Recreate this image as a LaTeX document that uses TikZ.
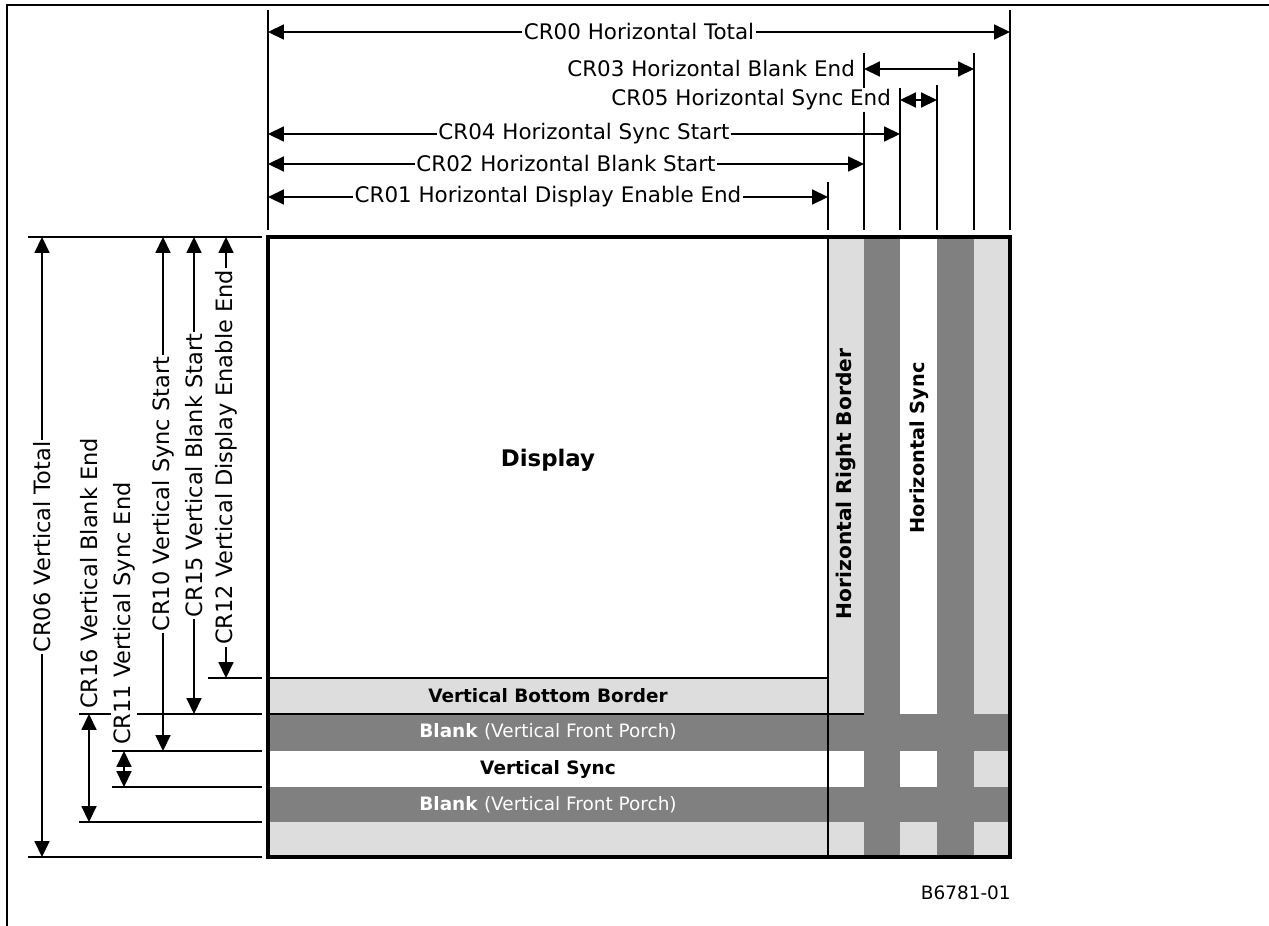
\documentclass[tikz,border=0pt]{standalone}
\usepackage{fontspec}
\setmainfont{DejaVu Sans}
\usepackage{xcolor}
\usetikzlibrary{arrows.meta}

\definecolor{lightband}{HTML}{DDDDDD}
\definecolor{darkband}{HTML}{808080}

\tikzset{
  dim/.style={{Triangle[length=9pt,width=8.5pt]}-{Triangle[length=9pt,width=8.5pt]}, line width=0.9pt},
  extline/.style={line width=0.9pt},
  crlabel/.style={fill=white, inner sep=1pt, font=\fontsize{12.2}{14}\selectfont},
  vcrlabel/.style={crlabel, rotate=90, font=\fontsize{12.8}{15}\selectfont},
  bandlabel/.style={inner sep=0pt, font=\fontsize{10.5}{12}\selectfont\bfseries}
}

\begin{document}
\begin{tikzpicture}[x=0.02cm, y=-0.02cm]
\useasboundingbox (0,0) rectangle (1269,926);
\draw[line width=1.5pt] (1269,5) -| (7,926);

% screen bands
\fill[lightband] (268,237) rectangle (1010,857);
\fill[white] (268,237) rectangle (828,678);
\fill[white] (900,237) rectangle (937,714);
\fill[white] (268,751) rectangle (974,787);
\fill[darkband] (268,714) rectangle (1010,751);
\fill[darkband] (268,787) rectangle (1010,822);
\fill[darkband] (864,237) rectangle (900,857);
\fill[darkband] (937,237) rectangle (974,857);
\draw[extline] (828,237) -- (828,857);
\draw[extline] (268,678) -- (828,678);
\draw[extline] (268,714) -- (864,714);
\draw[line width=1.9pt] (268,237) rectangle (1010,857);

\node[font=\fontsize{13}{15}\selectfont\bfseries] (disp) at (548,460) {Display};
\node[bandlabel] (vbb) at (548,696) {Vertical Bottom Border};
\node[bandlabel, text=white] (blank1) at (548,732) {Blank \mdseries(Vertical Front Porch)};
\node[bandlabel] (vsync) at (548,769) {Vertical Sync};
\node[bandlabel, text=white] (blank2) at (548,805) {Blank \mdseries(Vertical Front Porch)};
\node[bandlabel, rotate=90, font=\fontsize{11.5}{13}\selectfont\bfseries] (hrb) at (846,484) {Horizontal Right Border};
\node[bandlabel, rotate=90, font=\fontsize{11}{13}\selectfont\bfseries] (hsync) at (919,448) {Horizontal Sync};

% top extension lines
\draw[extline] (268,10) -- (268,230);
\draw[extline] (828,182) -- (828,230);
\draw[extline] (864,53) -- (864,230);
\draw[extline] (900,88) -- (900,230);
\draw[extline] (937,85) -- (937,230);
\draw[extline] (974,53) -- (974,230);
\draw[extline] (1010,10) -- (1010,230);

% horizontal registers
\coordinate (h00l) at (268,32);  \coordinate (h00r) at (1010,32);
\coordinate (h03l) at (864,69);  \coordinate (h03r) at (974,69);
\coordinate (h05l) at (900,100); \coordinate (h05r) at (937,100);
\coordinate (h04l) at (268,134); \coordinate (h04r) at (900,134);
\coordinate (h02l) at (268,164); \coordinate (h02r) at (864,164);
\coordinate (h01l) at (268,197); \coordinate (h01r) at (828,197);
\draw[dim] (h00l) -- node[crlabel] (cr00) {CR00 Horizontal Total} (h00r);
\draw[dim] (h03l) -- (h03r);
\node[crlabel, anchor=east] (cr03) at (857,69) {CR03 Horizontal Blank End};
\draw[dim] (h05l) -- (h05r);
\node[crlabel, anchor=east] (cr05) at (893,100) {CR05 Horizontal Sync End};
\draw[dim] (h04l) -- node[crlabel] (cr04) {CR04 Horizontal Sync Start} (h04r);
\draw[dim] (h02l) -- node[crlabel] (cr02) {CR02 Horizontal Blank Start} (h02r);
\draw[dim] (h01l) -- node[crlabel] (cr01) {CR01 Horizontal Display Enable End} (h01r);

% left extension lines
\draw[extline] (28,237) -- (262,237);
\draw[extline] (208,678) -- (262,678);
\draw[extline] (79,714) -- (262,714);
\draw[extline] (112,751) -- (262,751);
\draw[extline] (112,787) -- (262,787);
\draw[extline] (79,822) -- (262,822);
\draw[extline] (28,857) -- (262,857);

% vertical registers
\coordinate (v06t) at (42,237);  \coordinate (v06b) at (42,857);
\coordinate (v16t) at (89,714);  \coordinate (v16b) at (89,822);
\coordinate (v11t) at (124,751); \coordinate (v11b) at (124,787);
\coordinate (v10t) at (163,237); \coordinate (v10b) at (163,751);
\coordinate (v15t) at (194,237); \coordinate (v15b) at (194,714);
\coordinate (v12t) at (226,237); \coordinate (v12b) at (226,678);
\draw[dim] (v06t) -- node[vcrlabel] (cr06) {CR06 Vertical Total} (v06b);
\draw[dim] (v16t) -- (v16b);
\node[vcrlabel, anchor=west] (cr16) at (89,711) {CR16 Vertical Blank End};
\draw[dim] (v11t) -- (v11b);
\node[vcrlabel, anchor=west] (cr11) at (124,747) {CR11 Vertical Sync End};
\draw[dim] (v10t) -- node[vcrlabel] (cr10) {CR10 Vertical Sync Start} (v10b);
\draw[dim] (v15t) -- node[vcrlabel] (cr15) {CR15 Vertical Blank Start} (v15b);
\draw[dim] (v12t) -- node[vcrlabel] (cr12) {CR12 Vertical Display Enable End} (v12b);

\node[anchor=east, inner sep=0pt, font=\fontsize{10.5}{12}\selectfont] (fig) at (1011,893) {B6781-01};
\end{tikzpicture}
\end{document}
